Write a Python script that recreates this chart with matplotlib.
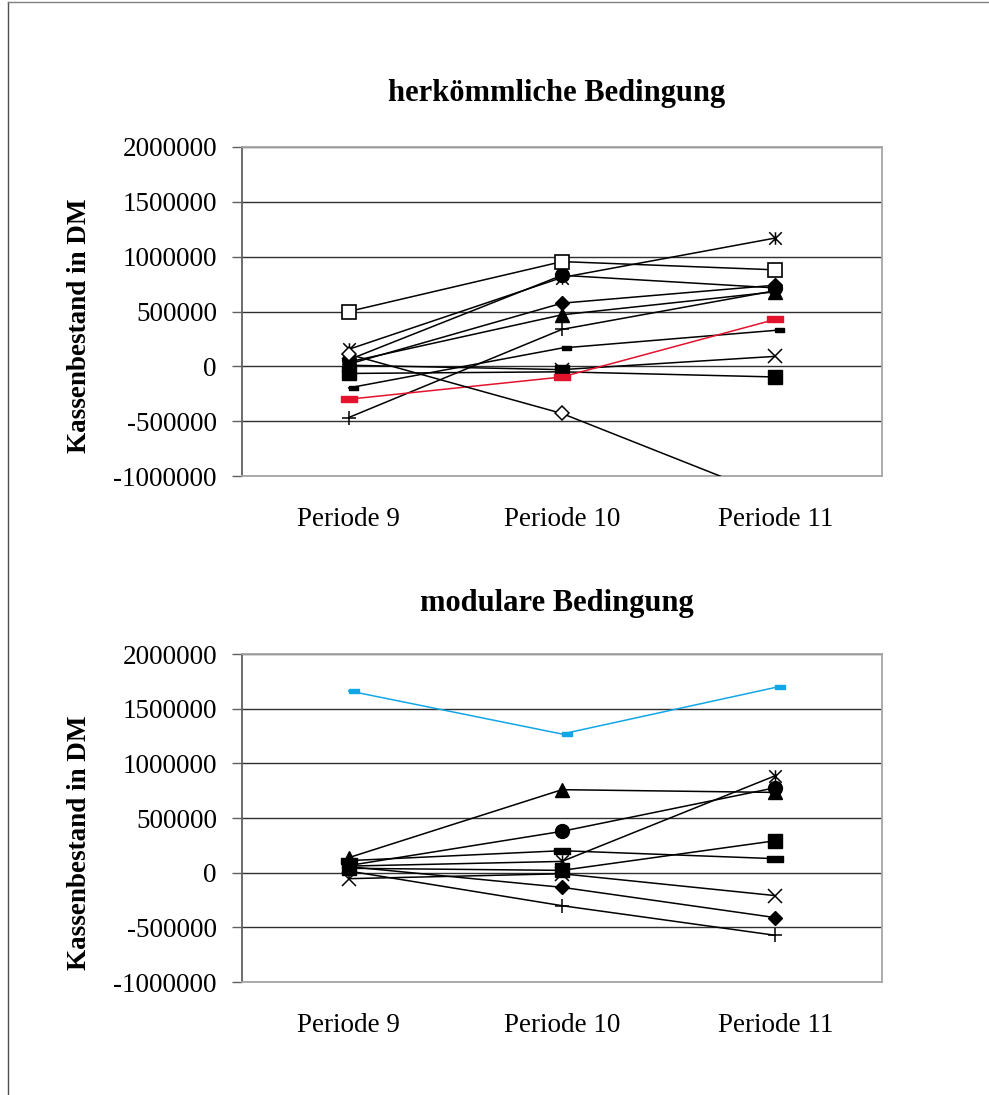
import matplotlib
matplotlib.use("Agg")
import matplotlib.pyplot as plt
from matplotlib.path import Path
from matplotlib.lines import Line2D

plt.rcParams['font.family'] = ['Liberation Serif', 'DejaVu Serif']

# ---- data -------------------------------------------------------------
periods = ["Periode 9", "Periode 10", "Periode 11"]
y_ticks = [-1000000, -500000, 0, 500000, 1000000, 1500000, 2000000]

# herkömmliche Bedingung
h_diamond = [20000, 576000, 740000]
h_square = [-65000, -50000, -97000]
h_triangle = [40000, 470000, 680000]
h_cross = [10000, -30000, 91000]
h_star = [155000, 810000, 1170000]
h_circle = [60000, 830000, 715000]
h_plus = [-467000, 337000, 690000]
h_dash = [-197000, 167000, 328000]
h_red = [-300000, -97000, 428000]
h_open_square = [500000, 955000, 880000]
h_open_diamond = [110000, -430000, -1200000]

# modulare Bedingung
m_diamond = [55000, -134000, -411000]
m_square = [40000, 21000, 292000]
m_triangle = [137000, 759000, 734000]
m_cross = [-55000, -10000, -210000]
m_star = [60000, 103000, 887000]
m_circle = [65000, 378000, 777000]
m_plus = [15000, -302000, -573000]
m_dash = [110000, 201000, 128000]
m_cyan = [1663000, 1268000, 1694000]

# ---- marker shapes ----------------------------------------------------
star_marker = Path(
    [(0, -1), (0, 1), (-1, -1), (1, 1), (-1, 1), (1, -1)],
    [Path.MOVETO, Path.LINETO, Path.MOVETO, Path.LINETO, Path.MOVETO, Path.LINETO])
short_dash = [(0, -0.42), (2, -0.42), (2, 0.42), (0, 0.42), (0, -0.42)]
wide_dash = [(-1, -0.32), (1, -0.32), (1, 0.32), (-1, 0.32), (-1, -0.32)]

LW = 1.1
W, H = 989, 1095
fig = plt.figure(figsize=(W / 100, H / 100), dpi=100)


def px_axes(left, top, right, bottom):
    return fig.add_axes([left / W, 1 - bottom / H, (right - left) / W, (bottom - top) / H])


def style_axes(ax):
    ax.set_xlim(-0.5, 2.5)
    ax.set_ylim(-1000000, 2000000)
    ax.set_yticks(y_ticks)
    ax.set_yticklabels([str(v) for v in y_ticks])
    ax.set_xticks(range(len(periods)))
    ax.set_xticklabels(periods)
    ax.set_axisbelow(True)
    ax.yaxis.grid(True, color='#303030', linewidth=1.0)
    for side in ('top', 'right', 'bottom'):
        ax.spines[side].set_color('#a6a6a6')
        ax.spines[side].set_linewidth(1.3)
    ax.spines['left'].set_color('#606060')
    ax.spines['left'].set_linewidth(1.3)
    ax.tick_params(axis='y', direction='out', length=7, width=1.0, color='#606060',
                   labelsize=19.5, pad=11)
    ax.tick_params(axis='x', length=0, labelsize=19.5, pad=22)


def series(ax, vals, marker, ms, color='black', face=None, mew=1.0, z=3):
    ax.plot(range(len(vals)), vals, color=color, linewidth=LW, marker=marker,
            markersize=ms, markerfacecolor=color if face is None else face,
            markeredgecolor=color, markeredgewidth=mew, zorder=z, clip_on=True)


# ---- top chart --------------------------------------------------------
ax1 = px_axes(242, 147, 882, 476)
style_axes(ax1)
series(ax1, h_circle, 'o', 10)
series(ax1, h_star, star_marker, 9.0, face='none', mew=1.1)
series(ax1, h_diamond, 'D', 7.0)
series(ax1, h_square, 's', 9.8)
series(ax1, h_triangle, '^', 10)
series(ax1, h_cross, 'x', 9.4, mew=1.1)
series(ax1, h_plus, '+', 9.4, mew=1.1)
series(ax1, h_dash, short_dash, 13)
series(ax1, h_red, wide_dash, 11.5, color='#e3132d')
series(ax1, h_open_square, 's', 9.4, face='white', mew=1.2)
series(ax1, h_open_diamond, 'D', 7.0, face='white', mew=1.1)

# ---- bottom chart -----------------------------------------------------
ax2 = px_axes(242, 654, 882, 982)
style_axes(ax2)
series(ax2, m_diamond, 'D', 7.0)
series(ax2, m_square, 's', 9.8)
series(ax2, m_triangle, '^', 10)
series(ax2, m_cross, 'x', 9.4, mew=1.1)
series(ax2, m_star, star_marker, 9.0, face='none', mew=1.1)
series(ax2, m_circle, 'o', 10)
series(ax2, m_plus, '+', 9.4, mew=1.1)
series(ax2, m_dash, wide_dash, 11.5)
series(ax2, m_cyan, short_dash, 14, color='#12a6e6')

# ---- titles and axis labels ------------------------------------------
fig.text(557 / W, 1 - 93 / H, "herkömmliche Bedingung", ha='center', va='center',
         fontsize=22, fontweight='bold')
fig.text(557 / W, 1 - 604 / H, "modulare Bedingung", ha='center', va='center',
         fontsize=22, fontweight='bold')
for yc in (326, 843):
    fig.text(80 / W, 1 - yc / H, "Kassenbestand in DM", ha='center', va='center',
             rotation=90, fontsize=19.5, fontweight='bold')

# outer frame (left and top edges)
fig.add_artist(Line2D([8 / W, 8 / W], [0, 1 - 2 / H], transform=fig.transFigure,
                      color='#505050', linewidth=1.0))
fig.add_artist(Line2D([8 / W, 1], [1 - 2 / H, 1 - 2 / H], transform=fig.transFigure,
                      color='#808080', linewidth=1.0))

fig.savefig("out.png", dpi=100)
